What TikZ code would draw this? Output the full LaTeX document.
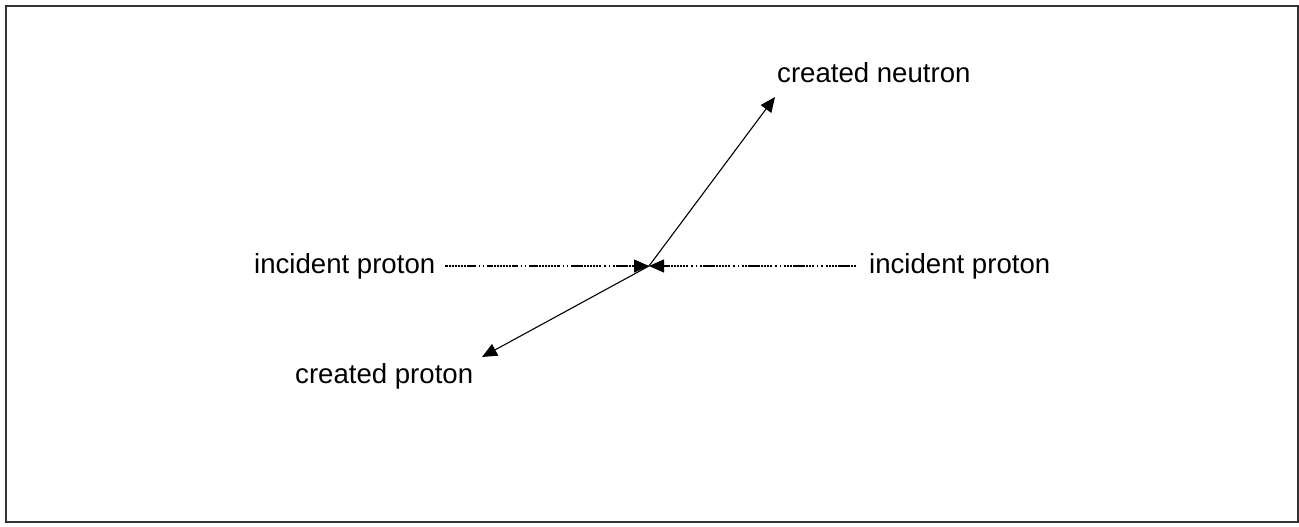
\documentclass[tikz,border=0pt]{standalone}
\usepackage{fontspec}
\setmainfont{Liberation Sans}
\usetikzlibrary{arrows.meta}
\tikzset{
  lbl/.style={inner sep=0pt, font=\fontsize{27.6}{33}\selectfont, text=black},
  ray/.style={line width=1.1pt, -{Triangle[length=15pt,width=13pt]}},
  inray/.style={line width=1.2pt, -{Triangle[length=15pt,width=13pt,sep=0pt]},
    dash pattern=on 2.4pt off 0.7pt on 2.4pt off 0.7pt on 2.4pt off 0.7pt on 2.4pt off 0.7pt
      on 2.4pt off 0.7pt on 2.4pt off 0.7pt on 2.4pt off 0.7pt on 2.4pt off 0.7pt
      on 2.4pt off 0.7pt on 2.4pt
      off 3pt on 1.3pt off 3pt on 1.3pt off 3pt},
  frame/.style={draw=black!80, line width=1.6pt}
}
\begin{document}
\begin{tikzpicture}[x=1pt,y=-1pt]
\useasboundingbox (0,0) rectangle (1299,527);
\draw[frame] (6,6) rectangle (1298,522);
\coordinate (c) at (649,266);
\coordinate (ntip) at (775,97);
\coordinate (ptip) at (482,357);
\node[lbl, anchor=base west] (inl) at (254,273) {incident proton};
\node[lbl, anchor=base west] (inr) at (869,273) {incident proton};
\node[lbl, anchor=base west] (cn) at (777,82) {created neutron};
\node[lbl, anchor=base west] (cp) at (295,383) {created proton};
\draw[inray] ([xshift=10pt]inl.east |- c) -- (c);
\draw[inray] ([xshift=-13pt]inr.west |- c) -- (c);
\draw[ray] (c) -- (ntip);
\draw[ray] (c) -- (ptip);
\end{tikzpicture}
\end{document}
